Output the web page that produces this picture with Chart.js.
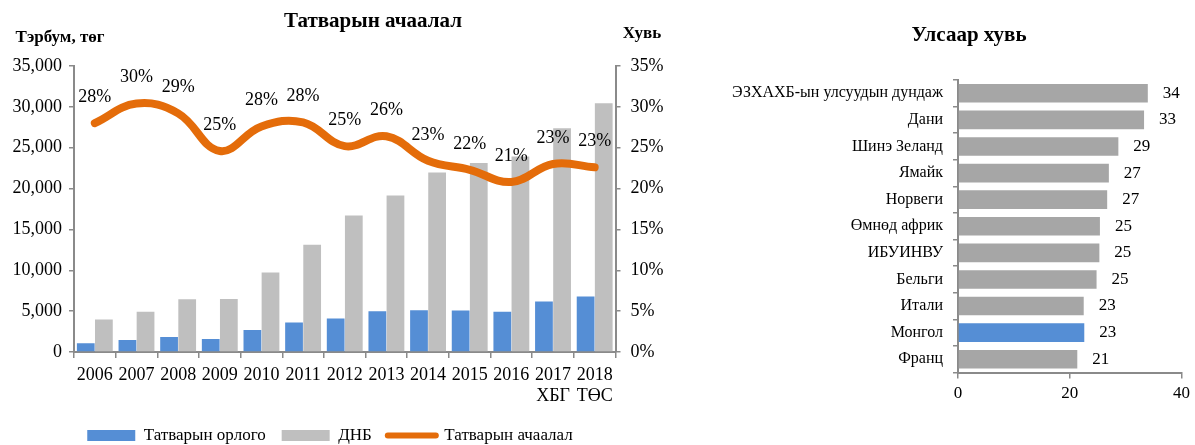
<!DOCTYPE html>
<html>
<head>
<meta charset="utf-8">
<script src="https://cdn.jsdelivr.net/npm/chart.js@4/dist/chart.umd.min.js"></script>
<style>
  body { margin: 0; width: 1195px; height: 445px; overflow: hidden; background: #fff; position: relative; }
  #taxChart { position: absolute; left: 0; top: 0; }
  #countryChart { position: absolute; left: 700px; top: 0; }
</style>
</head>
<body>
<canvas id="taxChart" width="690" height="454"></canvas>
<canvas id="countryChart" width="495" height="445"></canvas>
<script>
// data
const years = ['2006', '2007', '2008', '2009', '2010', '2011', '2012', '2013', '2014', '2015', '2016', ['2017', 'ХБГ'], ['2018', 'ТӨС']];
const taxRevenue = [1060, 1460, 1830, 1590, 2680, 3620, 4110, 5000, 5120, 5080, 4920, 6180, 6790];
const gdp = [3990, 4920, 6460, 6500, 9720, 13130, 16700, 19150, 21980, 23130, 23940, 27390, 30440];
const taxBurden = [28.0, 30.4, 29.2, 24.6, 27.6, 28.1, 25.2, 26.4, 23.4, 22.3, 20.8, 23.0, 22.6];

const countries = ['ЭЗХАХБ-ын улсуудын дундаж', 'Дани', 'Шинэ Зеланд', 'Ямайк', 'Норвеги', 'Өмнөд африк', 'ИБУИНВУ', 'Бельги', 'Итали', 'Монгол', 'Франц'];
const countryShare = [33.97, 33.3, 28.7, 27.0, 26.7, 25.4, 25.3, 24.8, 22.5, 22.6, 21.35];

const serif = "'Liberation Serif', 'Times New Roman', serif";
const axisColor = '#8a8a8a';
const blue = '#558ED5';
const orange = '#E46C0A';

// value labels over line points / after horizontal bars
const valueLabels = {
  id: 'valueLabels',
  afterDatasetsDraw(chart, args, opts) {
    const ctx = chart.ctx;
    chart.data.datasets.forEach((ds, di) => {
      if (!ds.showValues) return;
      const meta = chart.getDatasetMeta(di);
      ctx.save();
      ctx.font = opts.font;
      ctx.fillStyle = '#000';
      ctx.textBaseline = 'middle';
      meta.data.forEach((el, i) => {
        const txt = Math.round(ds.data[i]) + (ds.valueSuffix || '');
        if (chart.options.indexAxis === 'y') {
          ctx.textAlign = 'left';
          ctx.fillText(txt, el.x + 15, el.y);
        } else {
          ctx.textAlign = 'center';
          ctx.fillText(txt, el.x, el.y - 26);
        }
      });
      ctx.restore();
    });
  }
};

// titles and axis captions
const captions = {
  id: 'captions',
  afterDraw(chart, args, opts) {
    const ctx = chart.ctx;
    (opts.items || []).forEach(t => {
      ctx.save();
      ctx.font = t.font;
      ctx.fillStyle = '#000';
      ctx.textAlign = 'center';
      ctx.textBaseline = 'middle';
      ctx.fillText(t.text, t.x, t.y);
      ctx.restore();
    });
  }
};

function axisGrid(len) {
  return { drawOnChartArea: false, color: axisColor, lineWidth: 1.5, tickLength: len, tickColor: axisColor };
}
const axisBorder = { display: true, color: axisColor, width: 2 };

new Chart(document.getElementById('taxChart'), {
  type: 'bar',
  data: {
    labels: years,
    datasets: [
      { label: 'Татварын орлого', data: taxRevenue, backgroundColor: blue, yAxisID: 'y', order: 1,
        categoryPercentage: 0.87, barPercentage: 0.98 },
      { label: 'ДНБ', data: gdp, backgroundColor: '#BFBFBF', yAxisID: 'y', order: 1,
        categoryPercentage: 0.87, barPercentage: 0.98 },
      { type: 'line', label: 'Татварын ачаалал', data: taxBurden, yAxisID: 'y1', order: 0,
        borderColor: orange, backgroundColor: orange, borderWidth: 8, tension: 0.4,
        borderCapStyle: 'round', borderJoinStyle: 'round', pointRadius: 0,
        showValues: true, valueSuffix: '%' }
    ]
  },
  options: {
    responsive: false,
    animation: false,
    // negative left padding keeps the legend centred where the original has it
    layout: { padding: { top: 66, right: 0, left: -30, bottom: 0 } },
    scales: {
      x: {
        grid: axisGrid(6),
        border: axisBorder,
        ticks: { color: '#000', font: { family: serif, size: 18 }, padding: 6, autoSkip: false, maxRotation: 0 },
        afterFit: s => { s.height = 59; }
      },
      y: {
        position: 'left', min: 0, max: 35000,
        grid: axisGrid(5),
        border: axisBorder,
        ticks: { stepSize: 5000, color: '#000', font: { family: serif, size: 18 }, padding: 7,
          callback: v => v.toLocaleString('en-US') },
        afterFit: s => { s.width = 104; }
      },
      y1: {
        position: 'right', min: 0, max: 35,
        grid: axisGrid(5),
        border: axisBorder,
        ticks: { stepSize: 5, color: '#000', font: { family: serif, size: 18 }, padding: 10,
          callback: v => v + '%' },
        afterFit: s => { s.width = 74.5; }
      }
    },
    plugins: {
      tooltip: { enabled: false },
      legend: {
        position: 'bottom',
        labels: {
          usePointStyle: true, pointStyleWidth: 48, boxHeight: 11, padding: 16,
          color: '#000', font: { family: serif, size: 17 },
          generateLabels: chart => chart.data.datasets.map((ds, i) => ({
            text: ds.label,
            datasetIndex: i,
            fillStyle: ds.backgroundColor,
            strokeStyle: ds.type === 'line' ? ds.borderColor : ds.backgroundColor,
            lineWidth: ds.type === 'line' ? 6 : 0,
            lineCap: 'round',
            pointStyle: ds.type === 'line' ? 'line' : 'rect',
            fontColor: '#000',
            hidden: false
          }))
        }
      },
      valueLabels: { font: '18px ' + serif },
      captions: {
        items: [
          { text: 'Татварын ачаалал', x: 373, y: 22, font: 'bold 21px ' + serif },
          { text: 'Тэрбум, төг', x: 60, y: 38, font: 'bold 17px ' + serif },
          { text: 'Хувь', x: 642, y: 34, font: 'bold 17px ' + serif }
        ]
      }
    }
  },
  plugins: [valueLabels, captions]
});

new Chart(document.getElementById('countryChart'), {
  type: 'bar',
  data: {
    labels: countries,
    datasets: [
      { data: countryShare, backgroundColor: countries.map(c => c === 'Монгол' ? blue : '#A6A6A6'),
        categoryPercentage: 0.7, barPercentage: 1.0, showValues: true }
    ]
  },
  options: {
    indexAxis: 'y',
    responsive: false,
    animation: false,
    layout: { padding: { top: 80, right: 10, left: 0, bottom: 0 } },
    scales: {
      x: {
        min: 0, max: 40,
        grid: axisGrid(6),
        border: axisBorder,
        ticks: { stepSize: 20, color: '#000', font: { family: serif, size: 17 }, padding: 5 },
        afterFit: s => { s.height = 72.5; }
      },
      y: {
        grid: axisGrid(5),
        border: axisBorder,
        ticks: { color: '#000', font: { family: serif, size: 16 }, padding: 10, autoSkip: false },
        afterFit: s => { s.width = 258; }
      }
    },
    plugins: {
      tooltip: { enabled: false },
      legend: { display: false },
      valueLabels: { font: '17px ' + serif },
      captions: {
        items: [
          { text: 'Улсаар хувь', x: 269, y: 36, font: 'bold 21px ' + serif }
        ]
      }
    }
  },
  plugins: [valueLabels, captions]
});
</script>
</body>
</html>
